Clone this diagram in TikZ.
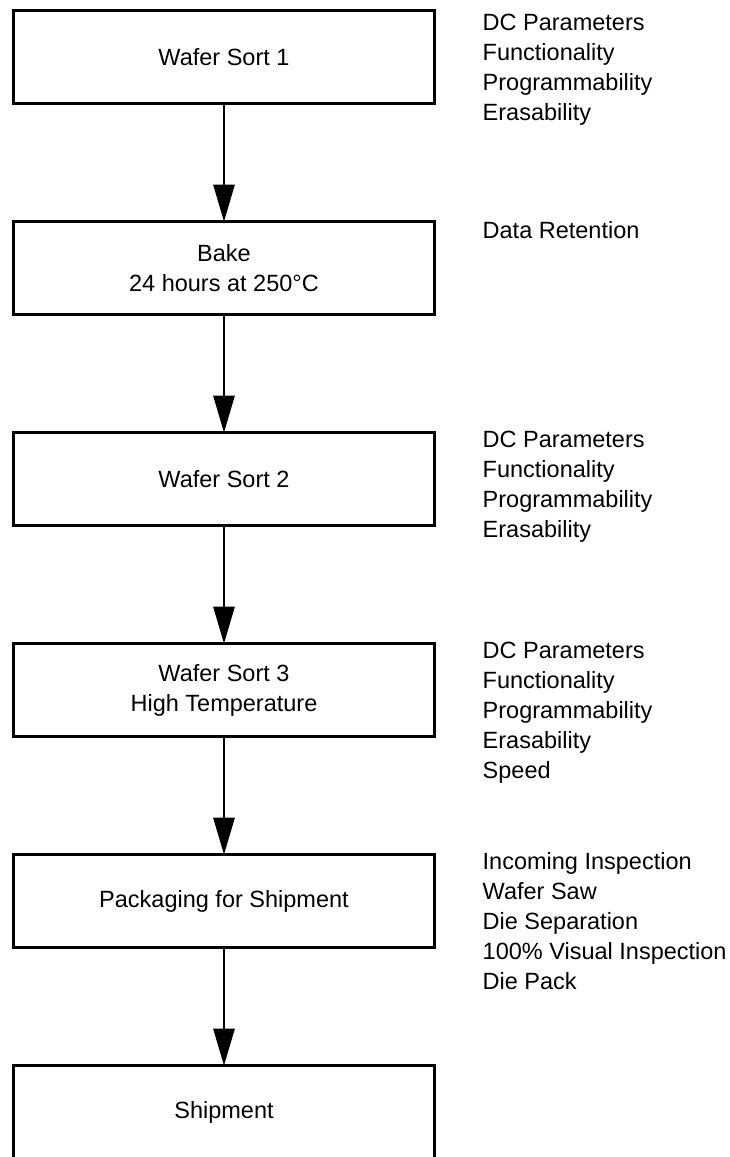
\documentclass[tikz,border=0pt]{standalone}
\usepackage{fontspec}
\setmainfont{Liberation Sans}
\usetikzlibrary{positioning,arrows.meta}

\begin{document}
\begin{tikzpicture}[x=1pt,y=-1pt,
	every node/.style={font=\fontsize{23.5}{30}\selectfont},
	stage/.style={draw,line width=2.8pt,minimum width=421pt,minimum height=92.5pt,inner sep=0,outer sep=0,align=center},
	notes/.style={anchor=north west,inner sep=0,align=left},
	flow/.style={line width=2.8pt,-{Triangle[length=37pt,width=21pt]}},
	node distance=118.5pt]
\useasboundingbox (0,0) rectangle (730,1157);
\clip (0,0) rectangle (730,1156);
\node[stage,anchor=north] (sort1) at (224,10.7) {Wafer Sort 1};
\node[stage,below=of sort1] (bake) {Bake\\24 hours at 250°C};
\node[stage,below=of bake] (sort2) {Wafer Sort 2};
\node[stage,below=of sort2] (sort3) {Wafer Sort 3\\High Temperature};
\node[stage,below=of sort3] (pack) {Packaging for Shipment};
\node[stage,below=of pack] (ship) {Shipment};
% what each step checks
\node[notes] (sort1tests) at ([xshift=48pt,yshift=-3pt]sort1.north east) {DC Parameters\\Functionality\\Programmability\\Erasability};
\node[notes] (baketests) at ([xshift=48pt]bake.north east) {Data Retention};
\node[notes] (sort2tests) at ([xshift=48pt,yshift=1.5pt]sort2.north east) {DC Parameters\\Functionality\\Programmability\\Erasability};
\node[notes] (sort3tests) at ([xshift=48pt,yshift=1.5pt]sort3.north east) {DC Parameters\\Functionality\\Programmability\\Erasability\\Speed};
\node[notes] (packsteps) at ([xshift=48pt,yshift=2pt]pack.north east) {Incoming Inspection\\Wafer Saw\\Die Separation\\100\% Visual Inspection\\Die Pack};
\draw[flow] (sort1) -- (bake);
\draw[flow] (bake) -- (sort2);
\draw[flow] (sort2) -- (sort3);
\draw[flow] (sort3) -- (pack);
\draw[flow] (pack) -- (ship);
\end{tikzpicture}
\end{document}
